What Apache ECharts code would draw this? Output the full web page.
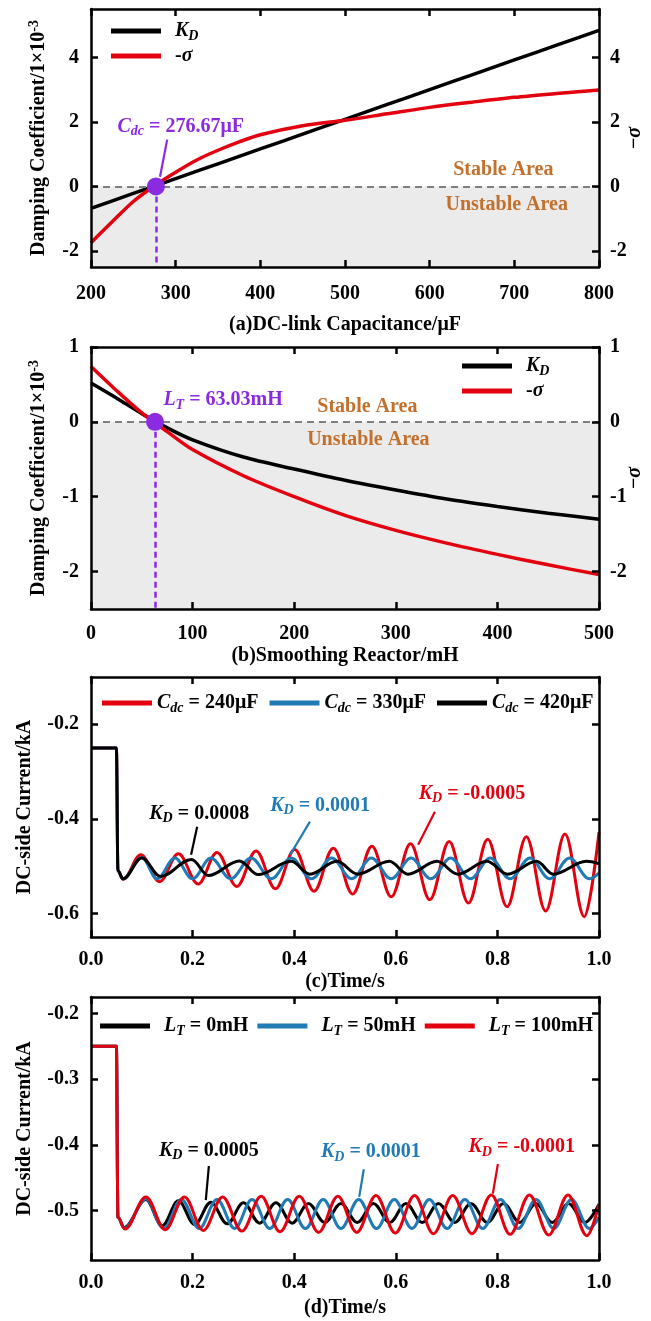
<!DOCTYPE html>
<html><head><meta charset="utf-8">
<script src="https://cdn.jsdelivr.net/npm/echarts@6/dist/echarts.min.js"></script>
<style>html,body{margin:0;padding:0;background:#fff}#c{width:651px;height:1321px}</style>
</head><body><div id="c"></div>
<script>
// ---------------- DATA ----------------
// (a) DC-link capacitance sweep
const aCapKD = [200, 250, 300, 350, 400, 450, 500, 550, 600, 650, 700, 750, 800];
const aKD    = [-0.68, -0.22, 0.24, 0.70, 1.16, 1.62, 2.08, 2.54, 3.00, 3.46, 3.92, 4.38, 4.84];
const aCapSig = [200, 225, 250, 275, 300, 325, 350, 375, 400, 450, 500, 550, 600, 650, 700, 750, 800];
const aSig    = [-1.75, -1.10, -0.47, 0.02, 0.44, 0.82, 1.12, 1.38, 1.60, 1.88, 2.05, 2.25, 2.45, 2.61, 2.76, 2.88, 2.99];
const aCross = 276.67;
const aTicksY = [-2, 0, 2, 4];
// (b) smoothing reactor sweep
const bL   = [0, 25, 50, 75, 100, 150, 200, 250, 300, 350, 400, 450, 500];
const bKD  = [0.52, 0.32, 0.11, -0.08, -0.24, -0.47, -0.63, -0.78, -0.91, -1.03, -1.13, -1.22, -1.30];
const bSig = [0.74, 0.42, 0.12, -0.13, -0.37, -0.72, -1.00, -1.25, -1.45, -1.62, -1.77, -1.91, -2.04];
const bCross = 63.03;
const bTicksY = [-2, -1, 0, 1];
// (c) time response, different Cdc (extrema)
const cRedT = [0, 0.05, 0.053, 0.063, 0.098, 0.135, 0.172, 0.211, 0.248, 0.287, 0.325, 0.363, 0.401, 0.439, 0.477, 0.515, 0.553, 0.591, 0.629, 0.667, 0.705, 0.743, 0.781, 0.819, 0.857, 0.895, 0.933, 0.971, 1.0];
const cRedV = [-0.25, -0.25, -0.51, -0.528, -0.476, -0.533, -0.474, -0.538, -0.471, -0.543, -0.468, -0.548, -0.465, -0.553, -0.462, -0.559, -0.458, -0.565, -0.453, -0.571, -0.448, -0.578, -0.443, -0.586, -0.438, -0.595, -0.432, -0.607, -0.428];
const cBlueT = [0, 0.05, 0.053, 0.063, 0.100, 0.130, 0.165, 0.200, 0.236, 0.275, 0.315, 0.355, 0.394, 0.434, 0.474, 0.513, 0.552, 0.591, 0.630, 0.669, 0.708, 0.747, 0.786, 0.825, 0.864, 0.903, 0.942, 0.981, 1.0];
const cBlueV = [-0.25, -0.25, -0.51, -0.527, -0.482, -0.527, -0.483, -0.527, -0.483, -0.527, -0.483, -0.527, -0.483, -0.527, -0.483, -0.527, -0.483, -0.527, -0.483, -0.527, -0.483, -0.527, -0.483, -0.527, -0.483, -0.527, -0.483, -0.527, -0.515];
const cBlackT = [0, 0.05, 0.053, 0.063, 0.100, 0.137, 0.198, 0.231, 0.292, 0.329, 0.394, 0.431, 0.484, 0.525, 0.587, 0.624, 0.681, 0.722, 0.779, 0.820, 0.877, 0.910, 0.975, 1.0];
const cBlackV = [-0.25, -0.25, -0.51, -0.527, -0.483, -0.522, -0.486, -0.520, -0.489, -0.518, -0.490, -0.517, -0.490, -0.517, -0.490, -0.517, -0.490, -0.517, -0.490, -0.517, -0.490, -0.517, -0.490, -0.495];
const cTicksY = [-0.6, -0.4, -0.2];
// (d) time response, different LT
const dBlackT = [0, 0.05, 0.053, 0.065, 0.108, 0.140, 0.172, 0.204, 0.236, 0.268, 0.300, 0.332, 0.364, 0.396, 0.428, 0.460, 0.492, 0.524, 0.556, 0.588, 0.620, 0.652, 0.684, 0.716, 0.748, 0.780, 0.812, 0.844, 0.876, 0.908, 0.940, 0.972, 1.0];
const dBlackV = [-0.25, -0.25, -0.51, -0.526, -0.483, -0.523, -0.485, -0.521, -0.487, -0.520, -0.488, -0.519, -0.488, -0.519, -0.489, -0.518, -0.489, -0.518, -0.489, -0.518, -0.489, -0.518, -0.489, -0.518, -0.489, -0.518, -0.489, -0.518, -0.489, -0.518, -0.489, -0.518, -0.49];
const dBlueT = [0, 0.05, 0.053, 0.066, 0.108, 0.143, 0.178, 0.213, 0.248, 0.283, 0.317, 0.352, 0.387, 0.422, 0.457, 0.492, 0.527, 0.562, 0.597, 0.632, 0.666, 0.701, 0.736, 0.771, 0.806, 0.841, 0.876, 0.911, 0.946, 0.981, 1.0];
const dBlueV = [-0.25, -0.25, -0.51, -0.527, -0.482, -0.527, -0.483, -0.527, -0.483, -0.527, -0.483, -0.527, -0.483, -0.527, -0.483, -0.527, -0.483, -0.527, -0.483, -0.527, -0.483, -0.527, -0.483, -0.527, -0.483, -0.527, -0.483, -0.527, -0.483, -0.527, -0.51];
const dRedT = [0, 0.05, 0.053, 0.067, 0.108, 0.146, 0.184, 0.221, 0.259, 0.297, 0.335, 0.372, 0.410, 0.448, 0.486, 0.523, 0.561, 0.599, 0.637, 0.674, 0.712, 0.750, 0.788, 0.825, 0.863, 0.901, 0.939, 0.976, 1.0];
const dRedV = [-0.25, -0.25, -0.51, -0.528, -0.479, -0.529, -0.479, -0.530, -0.479, -0.531, -0.478, -0.532, -0.478, -0.533, -0.478, -0.533, -0.477, -0.534, -0.477, -0.535, -0.477, -0.535, -0.476, -0.536, -0.476, -0.537, -0.476, -0.538, -0.49];
const dTicksY = [-0.5, -0.4, -0.3, -0.2];

// ---------------- STYLE ----------------
const FONT = '"Liberation Serif","Times New Roman",serif';
const RED = '#e3000f', BLUE = '#1f7ab5', BLACK = '#000', PURPLE = '#8a2be2', BROWN = '#c2702c';
const base = { fontFamily: FONT, fontWeight: 'bold', fontSize: 20, color: '#000' };
function richSet(size, col) {
  const o = {
    n: { fontFamily: FONT, fontWeight: 'bold', fontSize: size, lineHeight: 24 },
    i: { fontFamily: FONT, fontWeight: 'bold', fontStyle: 'italic', fontSize: size, lineHeight: 24 },
    s: { fontFamily: FONT, fontWeight: 'bold', fontStyle: 'italic', fontSize: Math.round(size * 0.68), lineHeight: 13, verticalAlign: 'bottom' },
    sup: { fontFamily: FONT, fontWeight: 'bold', fontSize: Math.round(size * 0.68), lineHeight: 13, verticalAlign: 'top' },
    g: { width: 9 }
  };
  if (col) for (const k in o) o[k].color = col;
  return o;
}
const pts = (t, v) => t.map((x, i) => [x, v[i]]);

const grids = [
  { left: 91, top: 9, width: 508, height: 258 },
  { left: 91, top: 347, width: 508, height: 262 },
  { left: 91, top: 677, width: 508, height: 260 },
  { left: 91, top: 997, width: 508, height: 263 }
].map(g => Object.assign({ outerBoundsMode: 'none', containLabel: false }, g));
const lineAx = { show: true, onZero: false, lineStyle: { color: '#000', width: 2.5 } };
const tickAx = { show: true, inside: true, length: 7, lineStyle: { color: '#000', width: 2.5 } };

function xPair(gi, min, max, interval, name, nameGap, margin, fmt) {
  return [
    { type: 'value', gridIndex: gi, min, max, interval, position: 'bottom', z: 10,
      axisLine: lineAx, axisTick: tickAx, splitLine: { show: false },
      axisLabel: Object.assign({ margin, formatter: fmt }, base),
      name, nameLocation: 'middle', nameGap, nameTextStyle: Object.assign({}, base) },
    { type: 'value', gridIndex: gi, min, max, interval, position: 'top', z: 10,
      axisLine: lineAx, axisTick: tickAx, splitLine: { show: false }, axisLabel: { show: false } }
  ];
}
function yPair(gi, min, max, ticks, name, nameGap, rightName, fmt) {
  const left = { type: 'value', gridIndex: gi, min, max, position: 'left', z: 10,
    axisLine: lineAx, axisTick: Object.assign({ customValues: ticks }, tickAx), splitLine: { show: false },
    axisLabel: Object.assign({ customValues: ticks, margin: 12, formatter: fmt }, base),
    name, nameLocation: 'middle', nameGap, nameRotate: 90, nameMoveOverlap: false,
    nameTextStyle: Object.assign({ rich: richSet(20) }, base) };
  const right = { type: 'value', gridIndex: gi, min, max, position: 'right', z: 10,
    axisLine: lineAx, axisTick: Object.assign({ customValues: ticks }, tickAx), splitLine: { show: false },
    axisLabel: rightName ? Object.assign({ customValues: ticks, margin: 11, formatter: fmt }, base) : { show: false } };
  if (rightName) {
    right.name = rightName; right.nameLocation = 'middle'; right.nameGap = 24; right.nameRotate = 90;
    right.nameMoveOverlap = false;
    right.nameTextStyle = Object.assign({ rich: richSet(20) }, base);
  }
  return [left, right];
}
const f1 = v => v.toFixed(1);

const xAxis = [].concat(
  xPair(0, 200, 800, 100, '(a)DC-link Capacitance/μF', 48, 17),
  xPair(1, 0, 500, 100, '(b)Smoothing Reactor/mH', 37, 15),
  xPair(2, 0, 1, 0.2, '(c)Time/s', 35, 13, f1),
  xPair(3, 0, 1, 0.2, '(d)Time/s', 38, 13, f1)
);
const yName1 = '{n|Damping Coefficient/1×10}{sup|-3}';
const yAxis = [].concat(
  yPair(0, -2.5, 5.5, aTicksY, yName1, 40, '{n|−}{i|σ}'),
  yPair(1, -2.5, 1, bTicksY, yName1, 40, '{n|−}{i|σ}'),
  yPair(2, -0.65, -0.1, cTicksY, 'DC-side Current/kA', 56, null),
  yPair(3, -0.575, -0.175, dTicksY, 'DC-side Current/kA', 56, null)
);

function txt(coord, text, color, size) {
  return { coord, symbol: 'circle', symbolSize: 1, itemStyle: { color: 'rgba(0,0,0,0)' },
    label: { show: true, position: 'inside', formatter: text, color, rich: richSet(size || 20, color) } };
}
function arrow(p1, p2, color) {
  return [{ coord: p1, lineStyle: { color, width: 2.2, type: 'solid' } }, { coord: p2 }];
}
const markLineBase = { silent: true, symbol: ['none', 'arrow'], symbolSize: [0, 12], label: { show: false }, animation: false };

function zeroDecor(cross, ymin) {
  return {
    markArea: { silent: true, itemStyle: { color: '#ebebeb' }, data: [[{ yAxis: ymin }, { yAxis: 0 }]] },
    markLine: { silent: true, symbol: 'none', label: { show: false }, animation: false,
      data: [
        { yAxis: 0, lineStyle: { color: '#7f7f7f', width: 2.2, type: [7, 5] } },
        [{ coord: [cross, 0], lineStyle: { color: PURPLE, width: 2.5, type: [6, 4] } }, { coord: [cross, ymin] }]
      ] }
  };
}

const lineCommon = { type: 'line', symbol: 'none', showSymbol: false, animation: false };
const series = [
  // (a)
  Object.assign({}, lineCommon, zeroDecor(aCross, -2.5), { name: 'KD_a', xAxisIndex: 0, yAxisIndex: 0, smooth: 0.2,
    data: pts(aCapKD, aKD), lineStyle: { color: BLACK, width: 3.5 }, itemStyle: { color: BLACK } }),
  Object.assign({}, lineCommon, { name: 'sig_a', xAxisIndex: 0, yAxisIndex: 0, smooth: 0.3,
    data: pts(aCapSig, aSig), lineStyle: { color: RED, width: 3.5 }, itemStyle: { color: RED },
    markLine: Object.assign({}, markLineBase, { data: [arrow([290, 1.45], [281.5, 0.3], PURPLE)] }),
    markPoint: { silent: true, animation: false, data: [
      { coord: [aCross, 0], symbol: 'circle', symbolSize: 18, itemStyle: { color: PURPLE } },
      txt([306, 1.86], '{i|C}{s|dc}{n| = 276.67μF}', PURPLE),
      txt([687, 0.52], '{n|Stable Area}', BROWN),
      txt([691, -0.58], '{n|Unstable Area}', BROWN)
    ] } }),
  // (b)
  Object.assign({}, lineCommon, zeroDecor(bCross, -2.5), { name: 'KD_b', xAxisIndex: 2, yAxisIndex: 2, smooth: 0.3,
    data: pts(bL, bKD), lineStyle: { color: BLACK, width: 3.5 }, itemStyle: { color: BLACK } }),
  Object.assign({}, lineCommon, { name: 'sig_b', xAxisIndex: 2, yAxisIndex: 2, smooth: 0.3,
    data: pts(bL, bSig), lineStyle: { color: RED, width: 3.5 }, itemStyle: { color: RED },
    markPoint: { silent: true, animation: false, data: [
      { coord: [bCross, 0], symbol: 'circle', symbolSize: 18, itemStyle: { color: PURPLE } },
      txt([130, 0.29], '{i|L}{s|T}{n| = 63.03mH}', PURPLE),
      txt([272, 0.2], '{n|Stable Area}', BROWN),
      txt([273, -0.24], '{n|Unstable Area}', BROWN)
    ] } }),
  // (c)
  Object.assign({}, lineCommon, { name: 'C240', xAxisIndex: 4, yAxisIndex: 4, smooth: 0.36, smoothMonotone: 'x',
    data: pts(cRedT, cRedV), lineStyle: { color: RED, width: 3 }, itemStyle: { color: RED },
    markLine: Object.assign({}, markLineBase, { data: [arrow([0.677, -0.385], [0.644, -0.455], RED)] }),
    markPoint: { silent: true, animation: false, data: [txt([0.75, -0.347], '{i|K}{s|D}{n| = -0.0005}', RED)] } }),
  Object.assign({}, lineCommon, { name: 'C330', xAxisIndex: 4, yAxisIndex: 4, smooth: 0.36, smoothMonotone: 'x',
    data: pts(cBlueT, cBlueV), lineStyle: { color: BLUE, width: 3 }, itemStyle: { color: BLUE },
    markLine: Object.assign({}, markLineBase, { data: [arrow([0.431, -0.406], [0.392, -0.476], BLUE)] }),
    markPoint: { silent: true, animation: false, data: [txt([0.451, -0.372], '{i|K}{s|D}{n| = 0.0001}', BLUE)] } }),
  Object.assign({}, lineCommon, { name: 'C420', xAxisIndex: 4, yAxisIndex: 4, smooth: 0.36, smoothMonotone: 'x',
    data: pts(cBlackT, cBlackV), lineStyle: { color: BLACK, width: 3 }, itemStyle: { color: BLACK },
    markLine: Object.assign({}, markLineBase, { data: [arrow([0.209, -0.417], [0.197, -0.476], BLACK)] }),
    markPoint: { silent: true, animation: false, data: [txt([0.213, -0.389], '{i|K}{s|D}{n| = 0.0008}', BLACK)] } }),
  // (d)
  Object.assign({}, lineCommon, { name: 'L0', xAxisIndex: 6, yAxisIndex: 6, smooth: 0.36, smoothMonotone: 'x',
    data: pts(dBlackT, dBlackV), lineStyle: { color: BLACK, width: 3 }, itemStyle: { color: BLACK },
    markLine: Object.assign({}, markLineBase, { data: [arrow([0.232, -0.432], [0.226, -0.484], BLACK)] }),
    markPoint: { silent: true, animation: false, data: [txt([0.232, -0.409], '{i|K}{s|D}{n| = 0.0005}', BLACK)] } }),
  Object.assign({}, lineCommon, { name: 'L50', xAxisIndex: 6, yAxisIndex: 6, smooth: 0.36, smoothMonotone: 'x',
    data: pts(dBlueT, dBlueV), lineStyle: { color: BLUE, width: 3 }, itemStyle: { color: BLUE },
    markLine: Object.assign({}, markLineBase, { data: [arrow([0.537, -0.437], [0.528, -0.479], BLUE)] }),
    markPoint: { silent: true, animation: false, data: [txt([0.551, -0.411], '{i|K}{s|D}{n| = 0.0001}', BLUE)] } }),
  Object.assign({}, lineCommon, { name: 'L100', xAxisIndex: 6, yAxisIndex: 6, smooth: 0.36, smoothMonotone: 'x',
    data: pts(dRedT, dRedV), lineStyle: { color: RED, width: 3 }, itemStyle: { color: RED },
    markLine: Object.assign({}, markLineBase, { data: [arrow([0.801, -0.429], [0.791, -0.474], RED)] }),
    markPoint: { silent: true, animation: false, data: [txt([0.848, -0.403], '{i|K}{s|D}{n| = -0.0001}', RED)] } })
];

const legendNames = {
  KD_a: '{g| }{i|K}{s|D}', sig_a: '{g| }{n|-}{i|σ}',
  KD_b: '{g| }{i|K}{s|D}', sig_b: '{g| }{n|-}{i|σ}',
  C240: '{i|C}{s|dc}{n| = 240μF}', C330: '{i|C}{s|dc}{n| = 330μF}', C420: '{i|C}{s|dc}{n| = 420μF}',
  L0: '{g| }{i|L}{s|T}{n| = 0mH}', L50: '{g| }{i|L}{s|T}{n| = 50mH}', L100: '{g| }{i|L}{s|T}{n| = 100mH}'
};
function legend(data, left, top, orient, gap) {
  return { data, left, top, orient, itemGap: gap, itemWidth: 50, itemHeight: 5, icon: 'rect',
    selectedMode: false, padding: 0,
    formatter: n => legendNames[n], textStyle: { color: '#000', rich: richSet(20) } };
}

const option = {
  animation: false,
  textStyle: { fontFamily: FONT },
  grid: grids,
  xAxis, yAxis, series,
  legend: [
    legend(['KD_a', 'sig_a'], 111, 21, 'vertical', 3),
    legend(['KD_b', 'sig_b'], 462, 356, 'vertical', 3),
    legend(['C240', 'C330', 'C420'], 102, 693, 'horizontal', 11),
    legend(['L0', 'L50', 'L100'], 100, 1016, 'horizontal', 9)
  ]
};
const chart = echarts.init(document.getElementById('c'), null, { renderer: 'canvas' });
chart.setOption(option);
</script></body></html>
